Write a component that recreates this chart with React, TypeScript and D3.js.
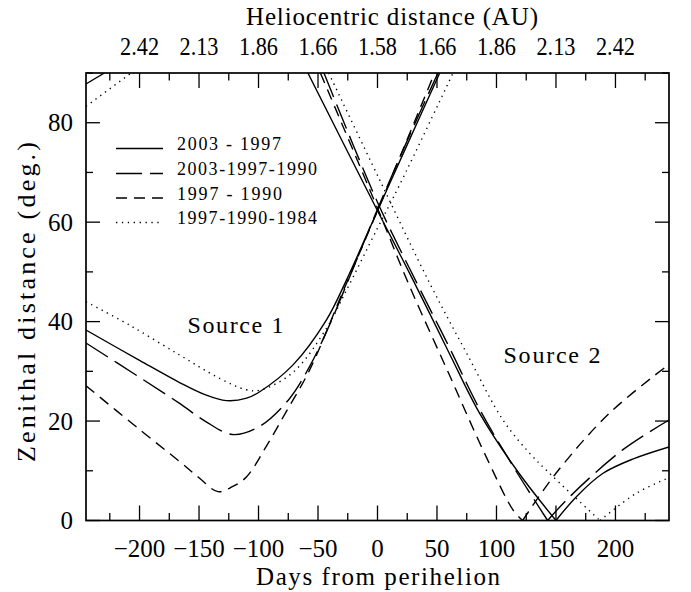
import React from "react";
import * as d3 from "d3";

type Pt = [number, number];

// ---- axis data ----
const dayMajorTicks = [-200, -150, -100, -50, 0, 50, 100, 150, 200];
const dayMinorTicks = [-225, -175, -125, -75, -25, 25, 75, 125, 175, 225];
const auTickLabels = ["2.42", "2.13", "1.86", "1.66", "1.58", "1.66", "1.86", "2.13", "2.42"];
const zenMajorTicks = [0, 20, 40, 60, 80];
const zenMinorTicks = [10, 30, 50, 70, 90];

const legendLabels = ["2003 - 1997", "2003-1997-1990", "1997 - 1990", "1997-1990-1984"];

// ---- Source 1 curves [days from perihelion, zenithal distance] ----
const s1_2003_1997: Pt[] = [[-245, 38.3], [-200, 32.2], [-166, 27.7], [-145, 25.3], [-127, 24.1], [-110, 24.6], [-99, 25.9], [-71, 31.3], [-43, 40.3], [-26, 48.4], [0, 62.3], [25, 75.6], [52.3, 90]];
const s1_2003_1997_1990: Pt[] = [[-245, 35.7], [-200, 28.8], [-166, 23.5], [-145, 20.0], [-122, 17.3], [-100, 18.8], [-75, 24.2], [-57, 31], [-40, 39.5], [-20, 51], [0, 62.6], [25, 76.4], [50.8, 90]];
const s1_1997_1990: Pt[] = [[-245, 27.1], [-200, 18.3], [-166, 11.8], [-150, 8.6], [-134, 5.8], [-122, 6.8], [-110, 8.8], [-93.5, 14.9], [-76.7, 21.9], [-57, 30.3], [-30, 45.5], [0, 62.3], [48, 90]];
const s1_1997_1990_1984: Pt[] = [[-245, 44.0], [-208.5, 39.3], [-166.4, 33.3], [-132.8, 28.6], [-110.3, 26.3], [-99, 26.2], [-71, 29.8], [-43, 38.6], [-27.6, 45.6], [0, 58.8], [18.6, 67.5], [63.5, 90]];

// ---- Source 2 curves ----
const s2_2003_1997: Pt[] = [[-58.5, 90], [0, 62.3], [30, 48.3], [60, 33.8], [86, 21.5], [118, 9.8], [150, 0], [168, 5], [189.6, 9.5], [215, 12.4], [245, 14.8]];
const s2_2003_1997_1990: Pt[] = [[-45, 90], [0, 64], [33, 47.8], [60, 35], [86, 22.3], [115, 10.5], [143, 0], [161.6, 4.8], [206, 14.2], [245, 20.2]];
const s2_1997_1990: Pt[] = [[-48, 90], [0, 62.8], [27, 47.1], [60, 29.5], [90, 13.5], [114, 2.1], [122, 0], [150, 9.5], [195, 21.6], [245, 31.4]];
const s2_1997_1990_1984: Pt[] = [[-41, 90], [1.8, 68.5], [43.9, 47.7], [75, 33.6], [105.5, 20.2], [128, 13.5], [147.6, 8.8], [187, 0], [217.7, 5.5], [245, 8.6]];

// ---- fragments entering at the upper-left corner ----
const edge_2003_1997: Pt[] = [[-245, 87.8], [-229.5, 90]];
const edge_1997_1990_1984: Pt[] = [[-245, 83.3], [-207, 90]];

const W = 691;
const H = 592;
const L = 86, R = 669, T = 73, B = 520.5;
const FONT = "'Liberation Serif', 'DejaVu Serif', serif";

const dashOf = ["none", "26,8", "11,7", "1.3,4.6"];

// split a curve at its lowest point so that V-shaped minima stay sharp
function splitAtMin(data: Pt[]): Pt[][] {
  const i = d3.minIndex(data, (d) => d[1]);
  if (i <= 0 || i >= data.length - 1) return [data];
  return [data.slice(0, i + 1), data.slice(i)];
}

export default function App() {
  const x = d3.scaleLinear().domain([-245, 245]).range([L, R]);
  const y = d3.scaleLinear().domain([0, 90]).range([B, T]);
  const line = d3
    .line<Pt>()
    .x((d) => x(d[0]))
    .y((d) => y(d[1]))
    .curve(d3.curveCatmullRom.alpha(0.5));

  const curves: { parts: Pt[][]; style: number }[] = [
    { parts: [s1_2003_1997], style: 0 },
    { parts: [s1_2003_1997_1990], style: 1 },
    { parts: [s1_1997_1990], style: 2 },
    { parts: [s1_1997_1990_1984], style: 3 },
    { parts: splitAtMin(s2_2003_1997), style: 0 },
    { parts: splitAtMin(s2_2003_1997_1990), style: 1 },
    { parts: splitAtMin(s2_1997_1990), style: 2 },
    { parts: splitAtMin(s2_1997_1990_1984), style: 3 },
    { parts: [edge_2003_1997], style: 0 },
    { parts: [edge_1997_1990_1984], style: 3 },
  ];

  const fmt = (v: number) => (v < 0 ? "\u2212" + Math.abs(v) : String(v));
  const legendY = [148.5, 173.5, 198, 222.5];
  const legendLen = [104, 140, 105, 140];

  return (
    <svg
      width={W}
      height={H}
      style={{ position: "absolute", left: 0, top: 0, display: "block", background: "#fff" }}
      fontFamily={FONT}
    >
      <rect x={0} y={0} width={W} height={H} fill="#fff" />
      <defs>
        <clipPath id="plotclip">
          <rect x={L} y={T} width={R - L} height={B - T} />
        </clipPath>
      </defs>

      {/* curves */}
      <g clipPath="url(#plotclip)" fill="none" stroke="#000" strokeWidth={1.4}>
        {curves.map((c, i) =>
          c.parts.map((p, j) => (
            <path key={i + "-" + j} d={line(p) || ""} strokeDasharray={dashOf[c.style]} />
          ))
        )}
      </g>

      {/* frame */}
      <rect x={L} y={T} width={R - L} height={B - T} fill="none" stroke="#000" strokeWidth={1.7} />

      {/* ticks */}
      <g stroke="#000" strokeWidth={1.3}>
        {dayMajorTicks.map((v) => (
          <g key={"bx" + v}>
            <line x1={x(v)} x2={x(v)} y1={B} y2={B - 15} />
            <line x1={x(v)} x2={x(v)} y1={T} y2={T + 15} />
          </g>
        ))}
        {dayMinorTicks.map((v) => (
          <g key={"mx" + v}>
            <line x1={x(v)} x2={x(v)} y1={B} y2={B - 7.5} />
            <line x1={x(v)} x2={x(v)} y1={T} y2={T + 7.5} />
          </g>
        ))}
        {zenMajorTicks.map((v) => (
          <g key={"by" + v}>
            <line x1={L} x2={L + 14} y1={y(v)} y2={y(v)} />
            <line x1={R} x2={R - 14} y1={y(v)} y2={y(v)} />
          </g>
        ))}
        {zenMinorTicks.map((v) => (
          <g key={"my" + v}>
            <line x1={L} x2={L + 7} y1={y(v)} y2={y(v)} />
            <line x1={R} x2={R - 7} y1={y(v)} y2={y(v)} />
          </g>
        ))}
      </g>

      {/* tick labels */}
      <g fontSize={25} fill="#000">
        {dayMajorTicks.map((v) => (
          <text key={"bl" + v} x={x(v)} y={557} textAnchor="middle">
            {fmt(v)}
          </text>
        ))}
        {dayMajorTicks.map((v, i) => (
          <text key={"tl" + v} x={x(v)} y={55} textAnchor="middle" textLength={39} lengthAdjust="spacingAndGlyphs">
            {auTickLabels[i]}
          </text>
        ))}
        {zenMajorTicks.map((v) => (
          <text key={"yl" + v} x={73} y={y(v) + 8.5} textAnchor="end">
            {v}
          </text>
        ))}
      </g>

      {/* axis titles */}
      <text x={378} y={585} textAnchor="middle" fontSize={25} textLength={244} lengthAdjust="spacing">
        Days from perihelion
      </text>
      <text x={392} y={25} textAnchor="middle" fontSize={25} textLength={292} lengthAdjust="spacing">
        Heliocentric distance (AU)
      </text>
      <text
        transform={`translate(35,302) rotate(-90)`}
        textAnchor="middle"
        fontSize={26}
        textLength={320}
        lengthAdjust="spacing"
      >
        Zenithal distance (deg.)
      </text>

      {/* legend */}
      <g>
        {legendLabels.map((lab, i) => (
          <g key={lab}>
            <line x1={116} x2={163} y1={legendY[i]} y2={legendY[i]} stroke="#000" strokeWidth={1.4} strokeDasharray={dashOf[i]} />
            <text x={177} y={legendY[i] + 1.5} fontSize={18} textLength={legendLen[i]} lengthAdjust="spacing">
              {lab}
            </text>
          </g>
        ))}
      </g>

      {/* source labels */}
      <text x={187.5} y={333} fontSize={24} textLength={96} lengthAdjust="spacing">
        Source 1
      </text>
      <text x={503.5} y={363} fontSize={24} textLength={97} lengthAdjust="spacing">
        Source 2
      </text>
    </svg>
  );
}
